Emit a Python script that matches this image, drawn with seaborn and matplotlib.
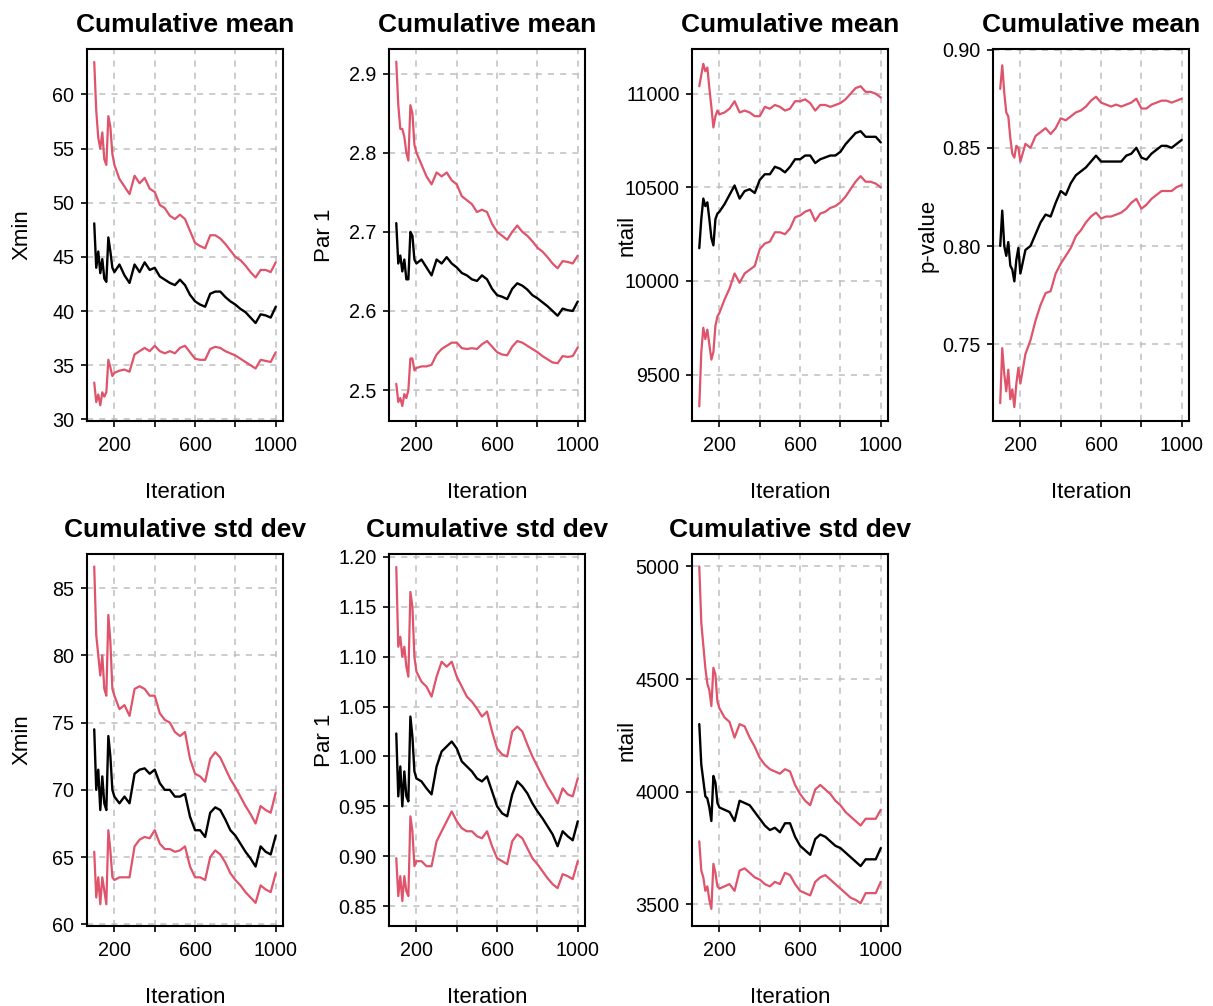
import numpy as np
import pandas as pd
import matplotlib
matplotlib.use("Agg")
import matplotlib.pyplot as plt
import seaborn as sns

iterations = [100, 110, 120, 130, 140, 150, 160, 170, 180, 190, 200,
              225, 250, 275, 300, 325, 350, 375, 400, 425, 450, 475, 500,
              525, 550, 575, 600, 625, 650, 675, 700, 725, 750, 775, 800,
              825, 850, 875, 900, 925, 950, 975, 1000]

# ---- cumulative mean ----
xmin_mean = [48.1, 44.0, 45.5, 43.5, 44.8, 43.0, 42.7, 46.8, 45.5, 44.0, 43.6,
             44.3, 43.3, 42.6, 44.3, 43.6, 44.5, 43.8, 44.0, 43.2, 42.9, 42.6, 42.4,
             42.9, 42.4, 41.5, 40.9, 40.6, 40.4, 41.6, 41.8, 41.8, 41.3, 40.9, 40.6,
             40.2, 39.9, 39.4, 38.9, 39.7, 39.6, 39.4, 40.4]
xmin_mean_hi = [63.0, 58.5, 56.0, 55.0, 56.5, 54.0, 53.5, 58.0, 57.0, 54.5, 53.5,
                52.2, 51.5, 50.8, 52.5, 51.8, 52.3, 51.3, 51.0, 49.8, 49.5, 48.8, 48.5,
                48.9, 48.5, 47.4, 46.3, 46.0, 45.8, 47.0, 47.0, 46.7, 46.2, 45.6, 45.0,
                44.7, 44.2, 43.6, 43.1, 43.8, 43.8, 43.6, 44.5]
xmin_mean_lo = [33.4, 31.6, 32.3, 31.3, 32.5, 32.1, 32.5, 35.5, 34.8, 34.0, 34.3,
                34.5, 34.6, 34.4, 36.0, 36.3, 36.6, 36.3, 36.8, 36.3, 36.1, 36.3, 36.1,
                36.6, 36.8, 36.2, 35.6, 35.5, 35.5, 36.5, 36.7, 36.6, 36.3, 36.1, 35.9,
                35.6, 35.3, 35.0, 34.7, 35.5, 35.4, 35.3, 36.2]

par_mean = [2.711, 2.66, 2.67, 2.65, 2.665, 2.64, 2.64, 2.70, 2.695, 2.665, 2.66,
            2.665, 2.655, 2.645, 2.665, 2.66, 2.668, 2.66, 2.655, 2.648, 2.645, 2.64, 2.638,
            2.645, 2.64, 2.628, 2.62, 2.618, 2.615, 2.628, 2.635, 2.632, 2.627, 2.62, 2.616,
            2.611, 2.606, 2.60, 2.594, 2.603, 2.601, 2.60, 2.612]
par_mean_hi = [2.915, 2.86, 2.83, 2.83, 2.82, 2.80, 2.79, 2.86, 2.85, 2.81, 2.80,
               2.785, 2.77, 2.76, 2.775, 2.77, 2.775, 2.765, 2.76, 2.745, 2.74, 2.735, 2.725,
               2.728, 2.725, 2.71, 2.70, 2.695, 2.69, 2.70, 2.708, 2.70, 2.695, 2.688, 2.68,
               2.675, 2.668, 2.66, 2.654, 2.663, 2.662, 2.66, 2.67]
par_mean_lo = [2.508, 2.485, 2.49, 2.48, 2.495, 2.49, 2.50, 2.54, 2.54, 2.525, 2.528,
               2.53, 2.53, 2.532, 2.545, 2.552, 2.556, 2.56, 2.56, 2.553, 2.552, 2.553, 2.552,
               2.558, 2.562, 2.555, 2.548, 2.545, 2.544, 2.555, 2.562, 2.56, 2.556, 2.552, 2.548,
               2.543, 2.539, 2.535, 2.534, 2.543, 2.542, 2.543, 2.554]

ntail_mean = [10175, 10330, 10440, 10400, 10420, 10330, 10230, 10190, 10330, 10360, 10370,
              10410, 10460, 10510, 10440, 10480, 10490, 10470, 10540, 10570, 10570, 10610, 10600,
              10580, 10610, 10650, 10650, 10670, 10670, 10630, 10650, 10660, 10670, 10670, 10690,
              10730, 10760, 10790, 10800, 10770, 10770, 10770, 10740]
ntail_mean_hi = [11040, 11100, 11160, 11120, 11140, 11030, 10930, 10820, 10880, 10910, 10890,
                 10900, 10920, 10960, 10900, 10910, 10900, 10880, 10880, 10930, 10920, 10940, 10930,
                 10910, 10920, 10960, 10960, 10970, 10950, 10910, 10940, 10940, 10930, 10940, 10950,
                 10970, 11000, 11030, 11040, 11010, 11010, 11000, 10980]
ntail_mean_lo = [9330, 9620, 9750, 9690, 9740, 9660, 9580, 9620, 9760, 9810, 9830,
                 9900, 9960, 10040, 9990, 10040, 10060, 10080, 10170, 10200, 10210, 10260, 10260,
                 10250, 10280, 10340, 10350, 10370, 10380, 10320, 10360, 10370, 10390, 10400, 10420,
                 10450, 10490, 10530, 10560, 10530, 10530, 10520, 10500]

pval_mean = [0.800, 0.818, 0.800, 0.795, 0.802, 0.790, 0.788, 0.782, 0.793, 0.799, 0.786,
             0.798, 0.800, 0.806, 0.812, 0.816, 0.815, 0.822, 0.828, 0.826, 0.832, 0.836, 0.838,
             0.840, 0.843, 0.846, 0.843, 0.843, 0.843, 0.843, 0.843, 0.846, 0.847, 0.850, 0.845,
             0.844, 0.847, 0.849, 0.851, 0.851, 0.850, 0.852, 0.854]
pval_mean_hi = [0.880, 0.892, 0.878, 0.868, 0.866, 0.855, 0.847, 0.845, 0.851, 0.850, 0.843,
                0.852, 0.850, 0.856, 0.858, 0.860, 0.857, 0.860, 0.865, 0.864, 0.866, 0.868, 0.869,
                0.871, 0.874, 0.876, 0.873, 0.872, 0.871, 0.872, 0.871, 0.872, 0.873, 0.875, 0.870,
                0.870, 0.872, 0.873, 0.874, 0.874, 0.873, 0.874, 0.875]
pval_mean_lo = [0.720, 0.748, 0.735, 0.726, 0.737, 0.722, 0.727, 0.718, 0.730, 0.738, 0.730,
                0.745, 0.752, 0.762, 0.770, 0.776, 0.777, 0.786, 0.791, 0.795, 0.799, 0.805, 0.808,
                0.812, 0.815, 0.817, 0.814, 0.815, 0.815, 0.816, 0.817, 0.819, 0.822, 0.824, 0.819,
                0.821, 0.824, 0.826, 0.828, 0.828, 0.828, 0.830, 0.831]

# ---- cumulative std dev ----
xmin_sd = [74.5, 70.0, 71.5, 68.5, 71.0, 69.0, 68.5, 74.0, 72.5, 70.0, 69.5,
           69.0, 69.5, 69.0, 71.2, 71.5, 71.6, 71.2, 71.5, 70.5, 70.0, 70.0, 69.5,
           69.5, 69.7, 68.0, 67.0, 67.0, 66.5, 68.3, 68.7, 68.5, 67.8, 67.0, 66.6,
           66.0, 65.4, 64.9, 64.3, 65.8, 65.4, 65.2, 66.6]
xmin_sd_hi = [86.6, 81.5, 80.0, 78.5, 80.0, 77.5, 77.0, 83.0, 81.0, 77.5, 77.0,
              76.0, 76.3, 75.5, 77.5, 77.7, 77.5, 77.0, 77.0, 75.7, 75.2, 75.0, 74.3,
              74.0, 74.3, 72.3, 71.2, 71.0, 70.6, 72.3, 72.8, 72.4, 71.6, 70.8, 70.2,
              69.5, 68.8, 68.2, 67.5, 68.8, 68.5, 68.3, 69.8]
xmin_sd_lo = [65.4, 62.0, 63.5, 61.5, 63.5, 62.5, 61.5, 67.0, 65.5, 63.5, 63.3,
              63.5, 63.5, 63.5, 65.8, 66.3, 66.5, 66.4, 67.0, 66.0, 65.6, 65.6, 65.4,
              65.5, 65.8, 64.3, 63.5, 63.5, 63.3, 65.0, 65.5, 65.2, 64.6, 63.8, 63.3,
              62.9, 62.4, 62.0, 61.6, 62.9, 62.6, 62.4, 63.8]

par_sd = [1.023, 0.96, 0.99, 0.95, 0.985, 0.96, 0.955, 1.04, 1.02, 0.985, 0.978,
          0.975, 0.968, 0.962, 0.99, 1.005, 1.01, 1.015, 1.008, 0.995, 0.99, 0.985, 0.978,
          0.975, 0.98, 0.965, 0.95, 0.943, 0.94, 0.962, 0.975, 0.97, 0.963, 0.953, 0.945,
          0.938, 0.93, 0.922, 0.91, 0.925, 0.92, 0.916, 0.935]
par_sd_hi = [1.19, 1.11, 1.12, 1.10, 1.11, 1.09, 1.08, 1.165, 1.15, 1.10, 1.085,
             1.075, 1.07, 1.06, 1.08, 1.095, 1.09, 1.095, 1.08, 1.07, 1.06, 1.055, 1.048,
             1.04, 1.045, 1.025, 1.008, 1.002, 1.0, 1.025, 1.03, 1.025, 1.012, 1.0, 0.99,
             0.98, 0.97, 0.962, 0.953, 0.968, 0.962, 0.96, 0.978]
par_sd_lo = [0.898, 0.86, 0.88, 0.855, 0.88, 0.865, 0.86, 0.94, 0.925, 0.89, 0.895,
             0.895, 0.89, 0.89, 0.915, 0.925, 0.935, 0.945, 0.935, 0.928, 0.925, 0.925, 0.92,
             0.918, 0.925, 0.91, 0.898, 0.895, 0.892, 0.915, 0.922, 0.918, 0.908, 0.898, 0.892,
             0.885, 0.878, 0.872, 0.868, 0.882, 0.88, 0.877, 0.895]

ntail_sd = [4300, 4120, 4050, 3980, 3970, 3930, 3870, 4070, 4040, 3950, 3930,
            3920, 3910, 3870, 3960, 3950, 3940, 3910, 3880, 3850, 3830, 3840, 3820,
            3860, 3860, 3800, 3760, 3740, 3720, 3790, 3810, 3800, 3780, 3760, 3750,
            3730, 3710, 3690, 3670, 3700, 3700, 3700, 3750]
ntail_sd_hi = [5000, 4750, 4650, 4550, 4480, 4450, 4380, 4550, 4520, 4400, 4370,
               4330, 4310, 4240, 4300, 4290, 4240, 4200, 4150, 4120, 4100, 4090, 4080,
               4100, 4090, 4030, 3990, 3960, 3940, 4010, 4030, 4010, 3990, 3960, 3940,
               3910, 3890, 3870, 3850, 3880, 3880, 3880, 3920]
ntail_sd_lo = [3780, 3650, 3620, 3560, 3580, 3520, 3480, 3680, 3640, 3580, 3570,
               3580, 3590, 3560, 3650, 3660, 3640, 3620, 3610, 3590, 3580, 3600, 3590,
               3640, 3630, 3590, 3560, 3550, 3540, 3600, 3620, 3630, 3610, 3590, 3570,
               3550, 3530, 3520, 3505, 3550, 3550, 3550, 3600]

# panel specs: title, ylabel, (lo, mid, hi), ylim, yticks, tick labels
panels = [
    ("Cumulative mean", "Xmin", (xmin_mean_lo, xmin_mean, xmin_mean_hi), (29.85, 64.2),
     [30, 35, 40, 45, 50, 55, 60], None),
    ("Cumulative mean", "Par 1", (par_mean_lo, par_mean, par_mean_hi), (2.461, 2.931),
     [2.5, 2.6, 2.7, 2.8, 2.9], None),
    ("Cumulative mean", "ntail", (ntail_mean_lo, ntail_mean, ntail_mean_hi), (9252, 11239),
     [9500, 10000, 10500, 11000], None),
    ("Cumulative mean", "p-value", (pval_mean_lo, pval_mean, pval_mean_hi), (0.7109, 0.9003),
     [0.75, 0.80, 0.85, 0.90], ["0.75", "0.80", "0.85", "0.90"]),
    ("Cumulative std dev", "Xmin", (xmin_sd_lo, xmin_sd, xmin_sd_hi), (59.88, 87.53),
     [60, 65, 70, 75, 80, 85], None),
    ("Cumulative std dev", "Par 1", (par_sd_lo, par_sd, par_sd_hi), (0.830, 1.203),
     [0.85, 0.90, 0.95, 1.00, 1.05, 1.10, 1.15, 1.20],
     ["0.85", "0.90", "0.95", "1.00", "1.05", "1.10", "1.15", "1.20"]),
    ("Cumulative std dev", "ntail", (ntail_sd_lo, ntail_sd, ntail_sd_hi), (3404, 5055),
     [3500, 4000, 4500, 5000], None),
]

sns.set_style("ticks")
plt.rcParams['font.family'] = ['Liberation Sans', 'DejaVu Sans']
plt.rcParams['text.color'] = 'black'
plt.rcParams['axes.labelcolor'] = 'black'

RED = "#DF536B"
GRID = "#BEBEBE"

fig = plt.figure(figsize=(12.13, 10.06), dpi=100)
lefts = [0.0717, 0.3207, 0.5705, 0.8186]
bottoms = [0.5815, 0.0795]
w, h = 0.1616, 0.3698
ax_w_px = w * 1213

for k, (title, ylab, (lo, mid, hi), ylim, yt, ytl) in enumerate(panels):
    row, col = divmod(k, 4)
    ax = fig.add_axes([lefts[col], bottoms[row], w, h])
    df = pd.DataFrame({"Iteration": iterations, "lo": lo, "mid": mid, "hi": hi})
    sns.lineplot(data=df, x="Iteration", y="hi", color=RED, lw=1.6, estimator=None, ax=ax)
    sns.lineplot(data=df, x="Iteration", y="lo", color=RED, lw=1.6, estimator=None, ax=ax)
    sns.lineplot(data=df, x="Iteration", y="mid", color="black", lw=1.7, estimator=None, ax=ax)

    ax.set_xlim(64, 1036)
    ax.set_ylim(*ylim)
    ax.set_xticks([200, 400, 600, 800, 1000])
    ax.set_xticklabels(["200", "", "600", "", "1000"])
    ax.set_yticks(yt)
    if ytl is not None:
        ax.set_yticklabels(ytl)
    for v in [200, 400, 600, 800, 1000]:
        ax.axvline(v, color=GRID, ls=(0, (4, 4)), lw=1.1, zorder=0)
    for v in yt:
        ax.axhline(v, color=GRID, ls=(0, (4, 4)), lw=1.1, zorder=0)

    for s in ax.spines.values():
        s.set_visible(True)
        s.set_linewidth(1.5)
        s.set_color("black")
    ax.tick_params(axis="both", direction="out", length=4, width=1.2,
                   labelsize=14.2, colors="black")
    ax.tick_params(axis="y", pad=5)
    ax.tick_params(axis="x", pad=7)
    ax.set_title(title, fontsize=19, fontweight="bold", pad=12.5, color="black")
    ax.set_xlabel("Iteration", fontsize=16, labelpad=19)
    ax.set_ylabel(ylab, fontsize=16)
    ax.yaxis.set_label_coords(-65 / ax_w_px, 0.5)
    ax.yaxis.label.set_va("center")

fig.savefig("out.png", dpi=100)
